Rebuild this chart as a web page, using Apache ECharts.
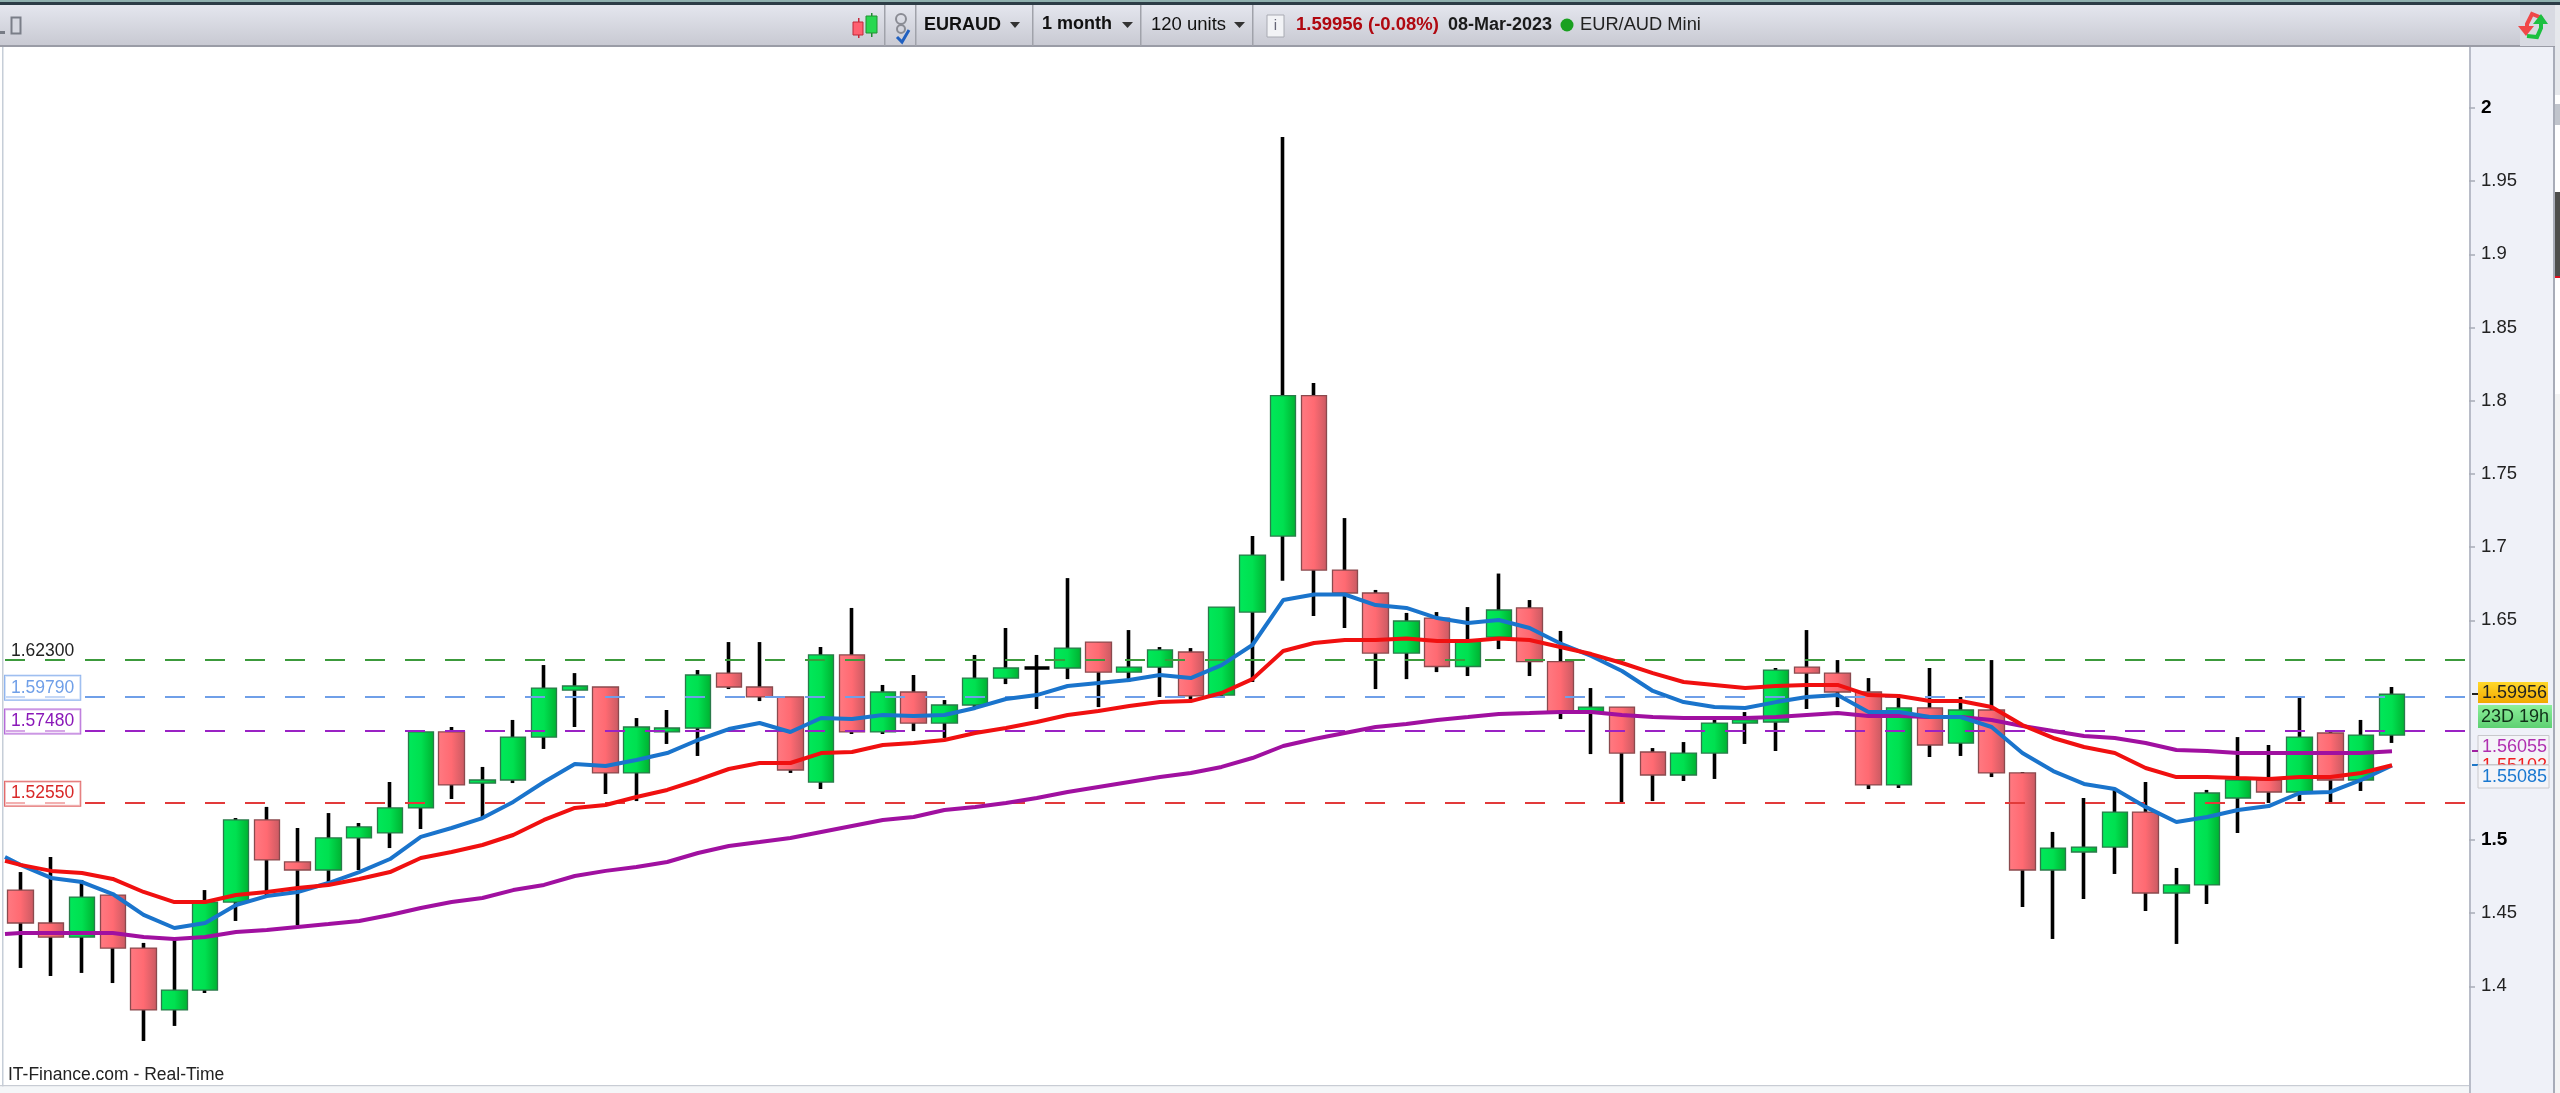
<!DOCTYPE html>
<html>
<head>
<meta charset="utf-8">
<style>html,body{margin:0;padding:0;background:#fff;overflow:hidden}#c{width:2560px;height:1093px}</style>
<script src="https://cdn.jsdelivr.net/npm/echarts@6/dist/echarts.min.js"></script>
</head>
<body>
<div id="c"></div>
<script>
const opens = [1.4658,1.4433,1.4337,1.4624,1.4262,1.3839,1.3975,1.4576,1.5137,1.4850,1.4795,1.5014,1.5048,1.5219,1.5738,1.5389,1.5410,1.5703,1.6024,1.6045,1.5458,1.5738,1.5765,1.6140,1.6045,1.5977,1.5396,1.6264,1.5738,1.6011,1.5799,1.5922,1.6106,1.6175,1.6175,1.6352,1.6147,1.6181,1.6284,1.5990,1.6557,1.7076,1.8036,1.6844,1.6687,1.6277,1.6516,1.6185,1.6386,1.6585,1.6219,1.5874,1.5908,1.5601,1.5444,1.5594,1.5799,1.5806,1.6181,1.6140,1.6011,1.5376,1.5902,1.5662,1.5888,1.5458,1.4795,1.4918,1.4952,1.5191,1.4638,1.4693,1.5287,1.5410,1.5328,1.5731,1.5410,1.5717];
const closes = [1.4433,1.4337,1.4610,1.4262,1.3839,1.3975,1.4576,1.5137,1.4864,1.4795,1.5014,1.5089,1.5219,1.5738,1.5376,1.5410,1.5703,1.6038,1.6052,1.5458,1.5772,1.5765,1.6127,1.6045,1.5977,1.5478,1.6264,1.5738,1.6011,1.5799,1.5922,1.6106,1.6175,1.6175,1.6311,1.6147,1.6181,1.6298,1.5984,1.6591,1.6946,1.8036,1.6844,1.6687,1.6277,1.6496,1.6185,1.6359,1.6571,1.6219,1.5874,1.5908,1.5594,1.5444,1.5594,1.5799,1.5820,1.6161,1.6140,1.6011,1.5376,1.5902,1.5649,1.5888,1.5458,1.4795,1.4945,1.4952,1.5191,1.4638,1.4693,1.5321,1.5410,1.5328,1.5703,1.5410,1.5717,1.59956];
const lows = [1.4126,1.4071,1.4092,1.4023,1.3627,1.3730,1.3955,1.4447,1.4624,1.4419,1.4706,1.4795,1.4945,1.5075,1.5280,1.5157,1.5389,1.5622,1.5772,1.5314,1.5266,1.5656,1.5574,1.6031,1.5949,1.5458,1.5348,1.5724,1.5724,1.5744,1.5697,1.5908,1.6065,1.5895,1.6099,1.5908,1.6079,1.5977,1.5963,1.5977,1.6079,1.6770,1.6530,1.6448,1.6031,1.6099,1.6147,1.6120,1.6304,1.6120,1.5826,1.5587,1.5246,1.5266,1.5403,1.5417,1.5656,1.5608,1.5895,1.5908,1.5348,1.5355,1.5567,1.5574,1.5430,1.4542,1.4324,1.4597,1.4768,1.4515,1.4290,1.4563,1.5048,1.5253,1.5266,1.5253,1.5335,1.5663];
const highs = [1.4781,1.4884,1.4727,1.4624,1.4297,1.4331,1.4658,1.5150,1.5226,1.5082,1.5184,1.5116,1.5396,1.5751,1.5772,1.5499,1.5820,1.6195,1.6140,1.6045,1.5833,1.5888,1.6161,1.6352,1.6352,1.5977,1.6318,1.6585,1.6059,1.6127,1.5956,1.6264,1.6448,1.6264,1.6789,1.6352,1.6434,1.6318,1.6311,1.6591,1.7076,1.9802,1.8122,1.7199,1.6708,1.6551,1.6557,1.6591,1.6820,1.6639,1.6428,1.6038,1.5908,1.5628,1.5669,1.5820,1.5874,1.6175,1.6434,1.6229,1.6106,1.5977,1.6175,1.5977,1.6229,1.5465,1.5055,1.5287,1.5355,1.5396,1.4809,1.5342,1.5703,1.5649,1.5977,1.5751,1.5820,1.6045];
// moving averages: the first value lies half a month before the first candle, at the left edge
const maBlue = [1.4884,1.4830,1.4741,1.4713,1.4631,1.4488,1.4399,1.4433,1.4556,1.4617,1.4645,1.4706,1.4781,1.4870,1.5021,1.5082,1.5150,1.5260,1.5396,1.5519,1.5505,1.5546,1.5594,1.5683,1.5758,1.5799,1.5738,1.5833,1.5826,1.5854,1.5847,1.5854,1.5902,1.5963,1.5990,1.6052,1.6072,1.6093,1.6127,1.6106,1.6195,1.6332,1.6639,1.6677,1.6677,1.6605,1.6585,1.6516,1.6482,1.6503,1.6448,1.6342,1.6257,1.6154,1.6018,1.5942,1.5908,1.5902,1.5942,1.5977,1.5990,1.5874,1.5874,1.5840,1.5840,1.5772,1.5594,1.5471,1.5383,1.5348,1.5226,1.5123,1.5157,1.5205,1.5232,1.5321,1.5328,1.5410,1.55085];
const maRed = [1.4857,1.4830,1.4789,1.4775,1.4734,1.4645,1.4576,1.4576,1.4624,1.4645,1.4672,1.4693,1.4734,1.4781,1.4877,1.4918,1.4966,1.5034,1.5137,1.5219,1.5239,1.5294,1.5342,1.5410,1.5485,1.5526,1.5526,1.5594,1.5601,1.5649,1.5663,1.5683,1.5731,1.5765,1.5806,1.5854,1.5881,1.5915,1.5942,1.5949,1.6004,1.6099,1.6291,1.6346,1.6366,1.6366,1.6377,1.6359,1.6359,1.6377,1.6366,1.6318,1.6270,1.6209,1.6140,1.6079,1.6059,1.6038,1.6052,1.6059,1.6059,1.5990,1.5984,1.5949,1.5949,1.5908,1.5785,1.5697,1.5635,1.5594,1.5492,1.5430,1.5430,1.5423,1.5417,1.5430,1.5430,1.5458,1.55102];
const maPurple = [1.4358,1.4365,1.4365,1.4365,1.4365,1.4337,1.4324,1.4337,1.4372,1.4385,1.4406,1.4426,1.4447,1.4488,1.4536,1.4576,1.4604,1.4658,1.4693,1.4754,1.4789,1.4816,1.4850,1.4911,1.4959,1.4986,1.5014,1.5055,1.5096,1.5137,1.5157,1.5205,1.5226,1.5253,1.5287,1.5328,1.5362,1.5396,1.5430,1.5458,1.5499,1.5560,1.5642,1.5690,1.5731,1.5772,1.5792,1.5820,1.5840,1.5861,1.5867,1.5874,1.5874,1.5854,1.5840,1.5833,1.5833,1.5833,1.5840,1.5854,1.5867,1.5847,1.5847,1.5840,1.5840,1.5820,1.5779,1.5744,1.5710,1.5697,1.5663,1.5615,1.5608,1.5594,1.5594,1.5594,1.5594,1.5594,1.56055];
const yTicks = [1.4,1.45,1.5,1.65,1.7,1.75,1.8,1.85,1.9,1.95,2];
const levelValues = [1.623,1.5979,1.5748,1.5255];
const levelColors = ['#3c9a3c','#6f9fe8','#9a22c4','#e23a3a'];
const levelTextColors = ['#222222','#6f9fe8','#8a18b8','#d82828'];
const levelBoxes = [null,'#8fb4ee','#b56ad8','#e26a6a'];
const months = [];
(function(){let y=2016,m=10;for(let i=0;i<80;i++){months.push(y+'-'+String(m).padStart(2,'0'));m++;if(m>12){m=1;y++;}}})();

const FONT = '"Liberation Sans", Arial, sans-serif';
const chart = echarts.init(document.getElementById('c'), null, {renderer:'canvas', width:2560, height:1093});
const grad = (a,b,c)=>new echarts.graphic.LinearGradient(0,0,1,0,[{offset:0,color:a},{offset:.5,color:b},{offset:1,color:c}]);
const bodies = opens.map((o,i)=>{
  const item = {value:[o,closes[i],Math.min(o,closes[i]),Math.max(o,closes[i])]};
  if(o===closes[i]) item.itemStyle = {borderWidth:3.5, borderColorDoji:'#000', borderColor:'#000', borderColor0:'#000'};
  return item;
});
const wicks = lows.map((l,i)=>[l,highs[i],l,highs[i]]);
const lineData = arr => arr.map((v,i)=>[i===0?-0.5:i-1, v]);

function txt(x,y,text,o){return Object.assign({type:'text',x,y,z:110,silent:true,style:Object.assign({text,font:'18px '+FONT,fill:'#111',textVerticalAlign:'middle',textAlign:'left'},o||{})},{});}
function rect(x,y,w,h,fill,z,extra){return {type:'rect',x,y,z:z===undefined?100:z,silent:true,shape:{x:0,y:0,width:w,height:h},style:Object.assign({fill},extra||{})};}
function poly(points,fill,stroke,lw){return {type:'polygon',z:110,silent:true,shape:{points},style:{fill,stroke,lineWidth:lw||0}};}
function pline(points,stroke,lw){return {type:'polyline',z:110,silent:true,shape:{points},style:{stroke,lineWidth:lw,fill:null}};}
const barGrad = new echarts.graphic.LinearGradient(0,0,0,1,[{offset:0,color:'#e4e6ee'},{offset:1,color:'#c8c9d2'}]);
const yGrad = new echarts.graphic.LinearGradient(0,0,0,1,[{offset:0,color:'#ffd82a'},{offset:1,color:'#f2a800'}]);
const gGrad = new echarts.graphic.LinearGradient(0,0,0,1,[{offset:0,color:'#8cf09a'},{offset:1,color:'#5ed072'}]);

const graphics = [
  rect(2470,46,83,1047,'#eff1f8',-1),
  rect(2469,46,2,1047,'#b8bcc8',-1),
  rect(2553,46,2,1047,'#a8acb8',-1),
  rect(2555,0,5,1093,'#ffffff',-1),
  rect(2555,0,5,95,'#e6e8ec',-1),
  rect(2555,104,5,21,'#c0c4cc',-1),
  rect(2555,192,5,84,'#4e4e4c',-1),
  rect(2555,276,5,2,'#e01020',-1),
  rect(2555,394,5,699,'#f4f4f4',-1),
  rect(2,46,1.5,1047,'#c6ced8',-1),
  rect(0,1085,2469,1.5,'#c8ccd4',-1),
  rect(0,1086.5,2469,7,'#f4f6f8',-1),
  rect(0,0,2560,2,'#8fb0ae'),
  rect(0,2,2560,3,'#2c3c46'),
  rect(0,5,2555,41,barGrad),
  rect(0,45,2555,2,'#9a9ca6'),
  rect(0,31,5,3,'#777b85',101),
  rect(11.5,17.5,9,16,'#d6d8e0',101,{stroke:'#7a7e88',lineWidth:2}),
  rect(2520,5,35,41,'#d8dae2',100),
  rect(884,5,1.5,41,'#a0a2aa',101),rect(915,5,1.5,41,'#a0a2aa',101),rect(1032,5,1.5,41,'#a0a2aa',101),rect(1140,5,1.5,41,'#a0a2aa',101),rect(1252,5,1.5,41,'#a0a2aa',101),
  rect(858,18,1.5,20,'#c8283a',101),rect(853,22,10,13,'#ff6070',102,{stroke:'#c02838',lineWidth:1}),
  rect(871,13,1.5,24,'#208a30',101),rect(866,16,11,17,'#28d850',102,{stroke:'#209030',lineWidth:1}),
  {type:'circle',z:110,silent:true,shape:{cx:901,cy:19,r:5},style:{fill:null,stroke:'#8a8c94',lineWidth:2}},
  {type:'circle',z:110,silent:true,shape:{cx:901,cy:29,r:4},style:{fill:null,stroke:'#8a8c94',lineWidth:2}},
  pline([[897,37],[902,42],[909,30]],'#2060c0',3),
  txt(924,25,'EURAUD',{font:'bold 18px '+FONT}),
  poly([[1010,22],[1020,22],[1015,28]],'#333'),
  txt(1042,24,'1 month',{font:'bold 18px '+FONT}),
  poly([[1122,22],[1133,22],[1127.5,28]],'#333'),
  txt(1151,25,'120 units',{font:'18.5px '+FONT}),
  poly([[1234,22],[1245,22],[1239.5,28]],'#333'),
  rect(1267,15,17,22,'#f2f3f6',110,{stroke:'#a8aab2',lineWidth:1}),
  txt(1275.5,26,'i',{font:'15px '+FONT,textAlign:'center',fill:'#667'}),
  txt(1296,25,'1.59956 (-0.08%)',{font:'bold 18.5px '+FONT,fill:'#b00810'}),
  txt(1448,25,'08-Mar-2023',{font:'bold 18px '+FONT,fill:'#1a1a1a'}),
  {type:'circle',z:110,silent:true,shape:{cx:1567,cy:25,r:6.5},style:{fill:'#1aa020'}},
  txt(1580,25,'EUR/AUD Mini',{font:'18.3px '+FONT,fill:'#222'}),
  pline([[2542,18],[2532,14],[2527,24],[2527,30]],'#f04848',4),
  poly([[2518,26],[2534,26],[2526,36]],'#f04848'),
  pline([[2527,36],[2537,37],[2541,28],[2541,22]],'#1cc040',4),
  poly([[2533,24],[2548,24],[2541,14]],'#1cc040'),
  txt(8,1075,'IT-Finance.com - Real-Time',{font:'17.5px '+FONT,fill:'#222'}),
  rect(2472,693,6,2,'#222',110),
  rect(2478,682,70,21,yGrad,109),
  txt(2482,693,'1.59956',{font:'18px '+FONT,fill:'#222'}),
  rect(2478,705,74,23,gGrad,109),
  txt(2481,717,'23D 19h',{font:'18px '+FONT,fill:'#103018'}),
  rect(2472,750,6,2,'#a020a0',110),
  rect(2472,764,6,2,'#2078c8',110),
  rect(2478,735.5,71,29,'#f4f4f8',109,{stroke:'#c8c8cc',lineWidth:1}),
  txt(2482,747,'1.56055',{font:'18px '+FONT,fill:'#b030b0'}),
  txt(2482,766,'1.55102',{font:'18px '+FONT,fill:'#f02020'}),
  rect(2478,765,71,23,'#f4f4f8',111,{stroke:'#c8c8cc',lineWidth:1}),
  Object.assign(txt(2482,777,'1.55085',{font:'18px '+FONT,fill:'#1a78d0'}),{z:112})
];

chart.setOption({
  animation:false,
  backgroundColor:'#ffffff',
  grid:{left:5,width:2464,top:34.8,height:1024.8,containLabel:false},
  xAxis:[
    {type:'category',data:months,boundaryGap:true,show:false},
    {type:'value',min:-0.5,max:79.5,show:false}
  ],
  yAxis:{
    type:'value',position:'right',min:1.35,max:2.05,interval:0.05,
    splitLine:{show:false},
    axisLine:{show:false,onZero:false},
    axisTick:{show:true,length:6,lineStyle:{color:'#a8acb6',width:1.5},customValues:yTicks},
    axisLabel:{show:true,margin:12,fontFamily:FONT,fontSize:18.5,color:'#222',
      customValues:yTicks,
      formatter:v=>{const s=String(+v.toFixed(2));return (s==='2'||s==='1.5')?'{b|'+s+'}':s;},
      rich:{b:{fontWeight:'bold',fontSize:19,fontFamily:FONT,color:'#000'}}}
  },
  series:[
    {type:'candlestick',name:'wicks',data:wicks,barWidth:1,z:2,silent:true,
     itemStyle:{color:'#000',color0:'#000',borderColor:'#000',borderColor0:'#000',borderWidth:3.6}},
    {type:'candlestick',name:'EUR/AUD Mini',data:bodies,barWidth:26,z:3,silent:true,
     itemStyle:{color:grad('#00e85a','#00e050','#00b030'),color0:grad('#ff7a82','#ff6a72','#c85a62'),
       borderColor:'#2a7a4a',borderColor0:'#8a4a4e',borderWidth:1.3}},
    {type:'line',name:'levels',xAxisIndex:1,data:[],symbol:'none',z:4,silent:true,
     markLine:{silent:true,symbol:'none',z:4,animation:false,precision:5,
       data:levelValues.map((v,i)=>({yAxis:v,
         lineStyle:{color:levelColors[i],type:[20,20],width:2,opacity:1},
         label:{show:true,position:'insideStartTop',distance:[0,-3],formatter:v.toFixed(5),
           fontFamily:FONT,fontSize:17.5,color:levelTextColors[i],
           padding:[3,6,3,6],
           backgroundColor:levelBoxes[i]?'rgba(255,255,255,0.6)':'transparent',
           borderColor:levelBoxes[i]||'transparent',borderWidth:levelBoxes[i]?1:0}}))
     }},
    {type:'line',name:'MA long',xAxisIndex:1,data:lineData(maPurple),showSymbol:false,symbol:'none',z:6,silent:true,
     lineStyle:{color:'#a010a0',width:4}},
    {type:'line',name:'MA short',xAxisIndex:1,data:lineData(maBlue),showSymbol:false,symbol:'none',z:7,silent:true,
     lineStyle:{color:'#1a74cc',width:4}},
    {type:'line',name:'MA mid',xAxisIndex:1,data:lineData(maRed),showSymbol:false,symbol:'none',z:8,silent:true,
     lineStyle:{color:'#f01010',width:4}}
  ],
  graphic:{elements:graphics}
});
</script>
</body>
</html>
